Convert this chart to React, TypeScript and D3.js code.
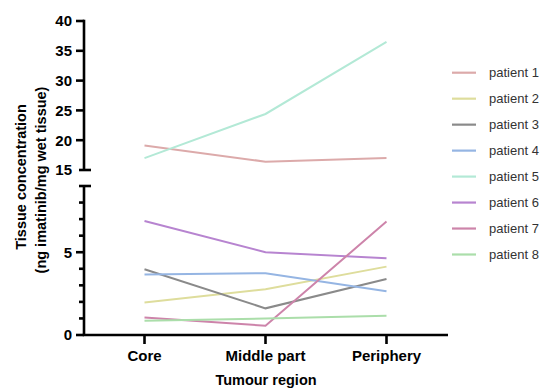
import React from "react";
import * as d3 from "d3";

// tumour regions (x categories)
const regions = ["Core", "Middle part", "Periphery"];

// tissue concentration per patient, ng imatinib / mg wet tissue
const patient1 = [19.1, 16.4, 17.0];
const patient2 = [1.97, 2.76, 4.13];
const patient3 = [3.97, 1.61, 3.38];
const patient4 = [3.65, 3.73, 2.64];
const patient5 = [17.0, 24.4, 36.5];
const patient6 = [6.89, 5.0, 4.63];
const patient7 = [1.05, 0.56, 6.85];
const patient8 = [0.86, 1.0, 1.17];

const seriesNames = ["patient 1", "patient 2", "patient 3", "patient 4", "patient 5", "patient 6", "patient 7", "patient 8"];
const seriesColors = ["#dcaaaa", "#dedd9c", "#8a8a8a", "#95b5e3", "#b3e9d6", "#b784d0", "#cd84aa", "#abdeaa"];

const topTicks = [15, 20, 25, 30, 35, 40];
const bottomMajor = [0, 5];
const bottomMinor = [1, 2, 3, 4, 6, 7, 8];

const W = 540,
  H = 388;
const axisX = 84;
const font = "'Liberation Sans', Arial, sans-serif";

export default function App() {
  const series = [patient1, patient2, patient3, patient4, patient5, patient6, patient7, patient8];

  const x = d3.scaleBand().domain(regions).range([axisX, 447]).padding(0);
  const yTop = d3.scaleLinear().domain([15, 40]).range([170, 21]);
  const yBot = d3.scaleLinear().domain([0, 9]).range([335, 186]);

  // pick the segment of the broken axis a value falls in
  const yOf = (v: number) => (v >= 15 ? yTop(v) : yBot(v));

  const line = d3
    .line<number>()
    .x((d, i) => (x(regions[i]) as number) + x.bandwidth() / 2)
    .y(d => yOf(d));

  const legendY = d3.scalePoint().domain(seriesNames).range([72.7, 254.5]);

  return (
    <svg width={W} height={H} style={{ position: "absolute", left: 0, top: 0 }} fontFamily={font}>
      <rect width={W} height={H} fill="#fff" />

      {/* data lines */}
      <g fill="none" strokeWidth={2}>
        {series.map((s, i) => (
          <path key={i} d={line(s) as string} stroke={seriesColors[i]} />
        ))}
      </g>

      {/* y axis, top segment */}
      <g stroke="#000" strokeWidth={2.6}>
        <line x1={axisX} x2={axisX} y1={yTop(40) - 1.3} y2={yTop(15)} />
        <line x1={79} x2={91} y1={yTop(15)} y2={yTop(15)} />
        {topTicks.slice(1).map(t => (
          <line key={t} x1={76} x2={axisX} y1={yTop(t)} y2={yTop(t)} />
        ))}
        {/* bottom segment */}
        <line x1={axisX} x2={axisX} y1={yBot(9)} y2={yBot(0)} />
        <line x1={79} x2={91} y1={yBot(9)} y2={yBot(9)} />
        {bottomMajor.map(t => (
          <line key={t} x1={76} x2={axisX} y1={yBot(t)} y2={yBot(t)} />
        ))}
        {bottomMinor.map(t => (
          <line key={t} x1={79} x2={axisX} y1={yBot(t)} y2={yBot(t)} />
        ))}
        {/* x axis */}
        <line x1={axisX - 1.3} x2={448} y1={yBot(0)} y2={yBot(0)} />
        {regions.map(r => {
          const cx = (x(r) as number) + x.bandwidth() / 2;
          return <line key={r} x1={cx} x2={cx} y1={yBot(0)} y2={yBot(0) + 9} />;
        })}
      </g>

      {/* tick labels */}
      <g fontSize={15} fontWeight="bold" textAnchor="end" fill="#000">
        {topTicks.map(t => (
          <text key={t} x={72} y={yTop(t)} dy="0.36em">
            {t}
          </text>
        ))}
        {bottomMajor.map(t => (
          <text key={t} x={72} y={yBot(t)} dy="0.36em">
            {t}
          </text>
        ))}
      </g>
      <g fontSize={15} fontWeight="bold" textAnchor="middle" fill="#000">
        {regions.map(r => (
          <text key={r} x={(x(r) as number) + x.bandwidth() / 2} y={356} dy="0.36em">
            {r}
          </text>
        ))}
      </g>

      {/* axis titles */}
      <text x={266} y={380} dy="0.36em" fontSize={14.5} fontWeight="bold" textAnchor="middle">
        Tumour region
      </text>
      <g fontSize={14.5} fontWeight="bold" textAnchor="middle">
        <text transform="translate(21,177) rotate(-90)" dy="0.36em">
          Tissue concentration
        </text>
        <text transform="translate(41,180) rotate(-90)" dy="0.36em">
          (ng imatinib/mg wet tissue)
        </text>
      </g>

      {/* legend */}
      <g>
        {seriesNames.map((n, i) => (
          <g key={n} transform={`translate(0,${legendY(n)})`}>
            <line x1={452} x2={476} stroke={seriesColors[i]} strokeWidth={2.2} />
            <text x={489} dy="0.36em" fontSize={13} fill="#333">
              {n}
            </text>
          </g>
        ))}
      </g>
    </svg>
  );
}
